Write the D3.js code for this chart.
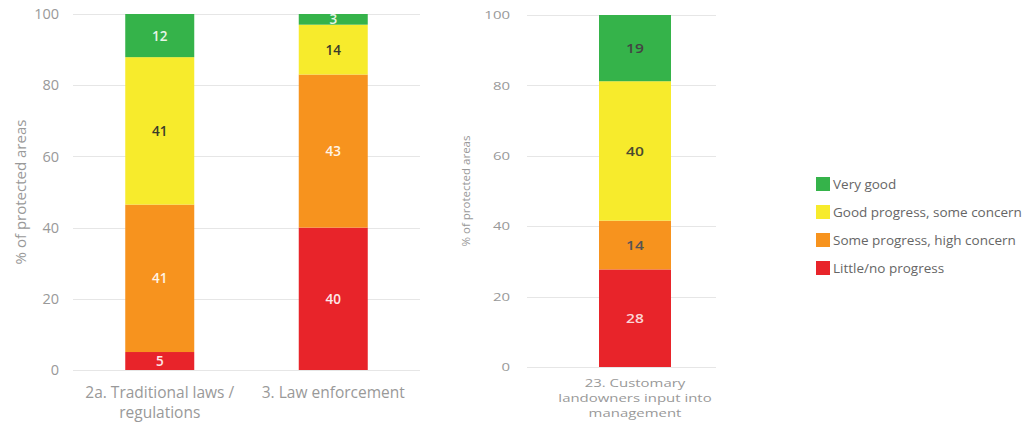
<!DOCTYPE html>
<html>
<head>
<meta charset="utf-8">
<script src="https://cdn.jsdelivr.net/npm/d3@7"></script>
<style>
  html, body { margin: 0; padding: 0; background: #fff; }
  svg { display: block; font-family: "Open Sans", sans-serif; }
</style>
</head>
<body>
<svg id="chart" width="1025" height="425"></svg>
<script>
// ---- data ----
const seriesNames = ["Little/no progress", "Some progress, high concern", "Good progress, some concern", "Very good"];
const legendOrder = ["Very good", "Good progress, some concern", "Some progress, high concern", "Little/no progress"];
const seriesColors = ["#e8242a", "#f7931e", "#f7eb2c", "#35b34a"];

const leftCategories = [["2a. Traditional laws /", "regulations"], ["3. Law enforcement"]];
const leftLittle = [5, 40];
const leftSome = [41, 43];
const leftGood = [41, 14];
const leftVery = [12, 3];

const rightCategories = [["23. Customary", "landowners input into", "management"]];
const rightLittle = [28];
const rightSome = [14];
const rightGood = [40];
const rightVery = [19];

const yTicks = [0, 20, 40, 60, 80, 100];
const yTitle = "% of protected areas";

// ---- drawing ----
const svg = d3.select("#chart");

function drawChart(cfg) {
  const cats = cfg.categories;
  const rows = cats.map((c, i) => ({
    key: i,
    "Little/no progress": cfg.values[0][i],
    "Some progress, high concern": cfg.values[1][i],
    "Good progress, some concern": cfg.values[2][i],
    "Very good": cfg.values[3][i]
  }));
  const stack = d3.stack().keys(seriesNames).offset(d3.stackOffsetExpand);
  const stacked = stack(rows);

  const y = d3.scaleLinear().domain([0, 1]).range([cfg.yBottom, cfg.yTop]);
  const yTickScale = d3.scaleLinear().domain([0, 100]).range([cfg.yBottom, cfg.yTop]);
  const x = d3.scaleBand().domain(d3.range(cats.length)).range(cfg.bandRange).padding(0);
  const bw = cfg.barWidth;
  const sx = cfg.stretch;

  const g = svg.append("g");

  // gridlines
  g.selectAll("line.grid").data(yTicks).enter().append("line")
    .attr("x1", cfg.gridX[0]).attr("x2", cfg.gridX[1])
    .attr("y1", d => Math.round(yTickScale(d)) + 0.5)
    .attr("y2", d => Math.round(yTickScale(d)) + 0.5)
    .attr("stroke", "#e6e6e6").attr("stroke-width", 1.2);

  // y axis tick labels via d3 axis
  const axis = d3.axisLeft(yTickScale).tickValues(yTicks).tickSize(0).tickPadding(0);
  const ag = g.append("g").attr("transform", `translate(${cfg.tickRight},0)`).call(axis);
  ag.select(".domain").remove();
  ag.selectAll("text").attr("fill", "#999").style("font-size", cfg.tickSize)
    .style("font-family", "'Open Sans', sans-serif")
    .attr("transform", `scale(${sx},1)`);

  // y title
  g.append("text")
    .attr("transform", `translate(${cfg.titleX},${(cfg.yTop + cfg.yBottom) / 2}) rotate(-90)`)
    .attr("text-anchor", "middle").attr("dominant-baseline", "central")
    .attr("fill", "#999").style("font-size", cfg.titleSize)
    .text(yTitle);

  // bars
  stacked.forEach((layer, si) => {
    layer.forEach((d, ci) => {
      const cx = x(ci) + x.bandwidth() / 2;
      const y0 = y(d[0]), y1 = y(d[1]);
      g.append("rect")
        .attr("x", cx - bw / 2).attr("width", bw)
        .attr("y", y1).attr("height", y0 - y1)
        .attr("fill", seriesColors[si]);
      const v = cfg.values[si][ci];
      g.append("text")
        .attr("transform", `translate(${cx},${(y0 + y1) / 2}) scale(${sx},1)`)
        .attr("text-anchor", "middle").attr("dominant-baseline", "central")
        .attr("fill", cfg.labelColors[si])
        .style("font-size", cfg.dataSize).style("font-weight", 600)
        .text(v);
    });
  });

  // x labels
  cats.forEach((lines, ci) => {
    const cx = x(ci) + x.bandwidth() / 2;
    lines.forEach((ln, li) => {
      g.append("text").attr("text-anchor", "middle")
        .attr("transform", `translate(${cx},${cfg.xLabelY + li * cfg.xLabelLH}) scale(${sx},1)`)
        .attr("fill", "#999").style("font-size", cfg.xLabelSize)
        .text(ln);
    });
  });
}

drawChart({
  categories: leftCategories,
  values: [leftLittle, leftSome, leftGood, leftVery],
  yTop: 14, yBottom: 370,
  gridX: [73, 420], bandRange: [73, 420], barWidth: 69,
  tickRight: 59, titleX: 20, titleSize: "15px", tickSize: "14.5px",
  stretch: 1, dataSize: "13.5px",
  xLabelY: 398, xLabelLH: 20, xLabelSize: "15.5px",
  labelColors: ["#fde8e8", "#fff4e6", "#3a3a2a", "#e8f5e8"]
});

drawChart({
  categories: rightCategories,
  values: [rightLittle, rightSome, rightGood, rightVery],
  yTop: 15, yBottom: 367,
  gridX: [527, 716], bandRange: [554, 716], barWidth: 72,
  tickRight: 510, titleX: 465, titleSize: "11.5px", tickSize: "11.5px",
  stretch: 1.3, dataSize: "12px",
  xLabelY: 387, xLabelLH: 15, xLabelSize: "11.5px",
  labelColors: ["#fbd6d6", "#555", "#4a4a30", "#444"]
});

// legend
const lg = svg.append("g");
legendOrder.forEach((name, i) => {
  const si = seriesNames.indexOf(name);
  const cy = 184 + i * 28;
  lg.append("rect").attr("x", 816).attr("y", cy - 7).attr("width", 14).attr("height", 14)
    .attr("fill", seriesColors[si]);
  lg.append("text").attr("x", 833).attr("y", cy).attr("dominant-baseline", "central")
    .attr("fill", "#666").style("font-size", "13.5px").text(name);
});
</script>
</body>
</html>
